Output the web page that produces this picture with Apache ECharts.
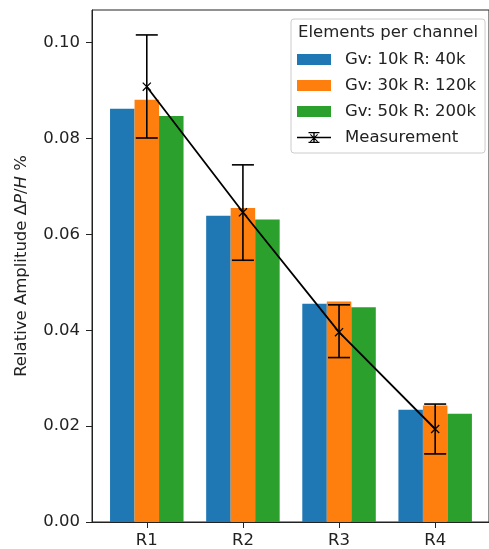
<!DOCTYPE html>
<html>
<head>
<meta charset="utf-8">
<script src="https://cdn.jsdelivr.net/npm/echarts@6/dist/echarts.min.js"></script>
<style>
html,body{margin:0;padding:0;background:#fff;}
#chart{width:489px;height:549px;}
</style>
</head>
<body>
<div id="chart"></div>
<script>
const categories = ['R1', 'R2', 'R3', 'R4'];
const seriesNames = ['Gv: 10k R: 40k', 'Gv: 30k R: 120k', 'Gv: 50k R: 200k'];
const gv10 = [0.0862, 0.0639, 0.0455, 0.0234];
const gv30 = [0.0881, 0.0655, 0.0460, 0.0243];
const gv50 = [0.0847, 0.0631, 0.0448, 0.0226];
const measurementName = 'Measurement';
const measured = [0.0908, 0.0646, 0.0396, 0.0194];
const errLow = [0.0801, 0.0546, 0.0343, 0.0142];
const errHigh = [0.1016, 0.0745, 0.0453, 0.0246];
const yTicks = [0, 0.02, 0.04, 0.06, 0.08, 0.10];
const xTicks = categories.map((c, i) => i);

const FONT = 'DejaVu Sans';
const FS = 16.5;
const TXT = '#222';
const colors = ['#1f77b4', '#ff7f0e', '#2ca02c'];
const barValues = [gv10, gv30, gv50];

const chart = echarts.init(document.getElementById('chart'), null, {renderer: 'canvas'});

const xMarker = 'path://M0,1 L1,0 L10,9 L9,10 Z M9,0 L10,1 L1,10 L0,9 Z';
const measIcon = 'path://M0,4.8 L34,4.8 L34,6.2 L0,6.2 Z M16.3,0 L17.7,0 L17.7,11 L16.3,11 Z M11.5,0 L22.5,0 L22.5,1.3 L11.5,1.3 Z M11.5,9.7 L22.5,9.7 L22.5,11 L11.5,11 Z M13,2.7 L13.7,2 L21,9.3 L20.3,10 Z M20.3,2 L21,2.7 L13.7,10 L13,9.3 Z';

const series = barValues.map((vals, k) => ({
  name: seriesNames[k],
  type: 'bar',
  barWidth: 24.5,
  barGap: '0%',
  itemStyle: {color: colors[k]},
  data: vals.map((v, i) => [i, v]),
  z: 2
}));

series.push({
  name: measurementName,
  type: 'line',
  data: measured.map((v, i) => [i, v]),
  lineStyle: {color: '#000', width: 1.8},
  itemStyle: {color: '#000'},
  symbol: xMarker,
  symbolSize: 9,
  showSymbol: true,
  z: 5
});

series.push({
  name: measurementName,
  type: 'custom',
  data: categories.map((c, i) => [i, errLow[i], errHigh[i]]),
  renderItem: function (params, api) {
    const x = api.value(0);
    const lo = api.coord([x, api.value(1)]);
    const hi = api.coord([x, api.value(2)]);
    const cap = 11;
    const st = {stroke: '#000', lineWidth: 1.6};
    return {
      type: 'group',
      children: [
        {type: 'line', shape: {x1: lo[0], y1: lo[1], x2: hi[0], y2: hi[1]}, style: st},
        {type: 'line', shape: {x1: hi[0] - cap, y1: hi[1], x2: hi[0] + cap, y2: hi[1]}, style: st},
        {type: 'line', shape: {x1: lo[0] - cap, y1: lo[1], x2: lo[0] + cap, y2: lo[1]}, style: st}
      ]
    };
  },
  z: 6
});

const option = {
  animation: false,
  backgroundColor: '#fff',
  textStyle: {fontFamily: FONT},
  grid: {
    left: 92, top: 10, right: -7, bottom: 27,
    show: true, borderColor: '#222', borderWidth: 1, backgroundColor: 'transparent'
  },
  xAxis: {
    type: 'value',
    min: -0.57,
    max: 3.56,
    splitLine: {show: false},
    axisLine: {show: true, onZero: false, lineStyle: {color: '#222', width: 1}},
    axisTick: {show: true, length: 6, lineStyle: {color: '#222'}, customValues: xTicks},
    axisLabel: {
      customValues: xTicks,
      formatter: v => categories[Math.round(v)],
      fontFamily: FONT, fontSize: FS, color: TXT, margin: 10
    }
  },
  yAxis: {
    type: 'value',
    min: 0,
    max: 0.1068,
    splitLine: {show: false},
    axisLine: {show: true, onZero: false, lineStyle: {color: '#222', width: 1}},
    axisTick: {show: true, length: 6, lineStyle: {color: '#222'}, customValues: yTicks},
    axisLabel: {
      customValues: yTicks,
      formatter: v => v.toFixed(2),
      fontFamily: FONT, fontSize: FS, color: TXT, margin: 12
    },
    name: 'Relative Amplitude Δ{i|P}/{i|H} %',
    nameLocation: 'middle',
    nameGap: 62,
    nameTextStyle: {
      fontFamily: FONT, fontSize: FS, color: TXT,
      rich: {i: {fontFamily: FONT, fontSize: FS, color: TXT, fontStyle: 'italic'}}
    }
  },
  legend: {
    orient: 'vertical',
    left: 291,
    top: 19,
    padding: [32, 9, 7, 6],
    backgroundColor: 'rgba(255,255,255,0.85)',
    borderColor: '#cccccc',
    borderWidth: 1,
    borderRadius: 3,
    itemWidth: 34,
    itemHeight: 11,
    itemGap: 9,
    selectedMode: false,
    textStyle: {fontFamily: FONT, fontSize: FS, color: TXT, padding: [0, 0, 0, 9]},
    data: [
      {name: seriesNames[0], icon: 'rect'},
      {name: seriesNames[1], icon: 'rect'},
      {name: seriesNames[2], icon: 'rect'},
      {name: measurementName, icon: measIcon, itemStyle: {color: '#000'}}
    ]
  },
  graphic: [{
    type: 'text',
    left: 298,
    top: 24,
    z: 100,
    style: {text: 'Elements per channel', font: FS + 'px "' + FONT + '"', fill: TXT}
  }],
  series: series
};

chart.setOption(option);
</script>
</body>
</html>
